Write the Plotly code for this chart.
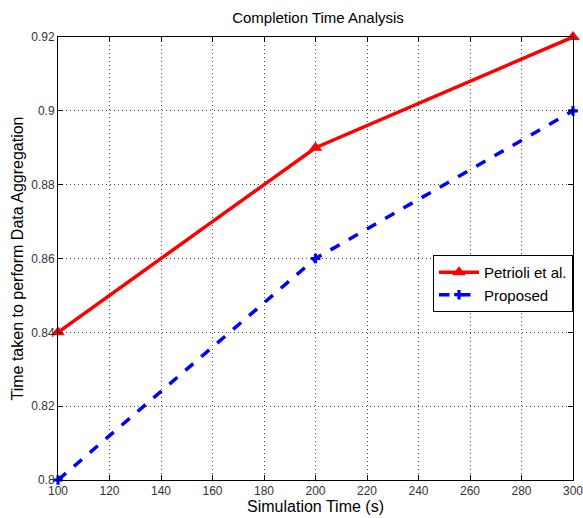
import plotly.graph_objects as go

sim_time = [100, 200, 300]
petrioli = [0.84, 0.89, 0.92]
proposed = [0.80, 0.86, 0.90]
x_ticks = list(range(100, 301, 20))
y_ticks = [0.8, 0.82, 0.84, 0.86, 0.88, 0.9, 0.92]
y_tick_text = ["0.8", "0.82", "0.84", "0.86", "0.88", "0.9", "0.92"]

fig = go.Figure()
fig.add_trace(go.Scatter(
    x=sim_time, y=petrioli, mode="lines+markers", name="Petrioli et al.",
    line=dict(color="#ff0000", width=3.5),
    marker=dict(symbol="triangle-up", size=12, color="#ff0000"),
    cliponaxis=False,
))
fig.add_trace(go.Scatter(
    x=sim_time, y=proposed, mode="lines+markers", name="Proposed",
    line=dict(color="#0000ff", width=3.5, dash="dash"),
    marker=dict(symbol="cross", size=8, color="#0000ff"),
    cliponaxis=False,
))

axis_common = dict(
    showline=True, linecolor="black", linewidth=1, mirror="ticks",
    ticks="inside", ticklen=5, tickcolor="black",
    showgrid=True, gridcolor="#444444", griddash="1px,3px", gridwidth=1,
    zeroline=False, automargin=False, ticklabeloverflow="allow",
    tickfont=dict(family="Liberation Sans Narrow, Arial Narrow, Liberation Sans, Arial", size=12, color="#333333"),
)

W, H = 583, 518
fig.update_layout(
    width=W, height=H,
    paper_bgcolor="white", plot_bgcolor="white",
    margin=dict(l=58, r=10, t=37, b=38),
    title=dict(text="Completion Time Analysis", x=318 / W, xanchor="center",
               y=1 - 18 / H, yanchor="middle", yref="container",
               font=dict(family="Liberation Sans, Arial", size=15, color="black")),
    xaxis=dict(range=[100, 300], tickvals=x_ticks,
               title=dict(text="Simulation Time (s)", standoff=2,
                          font=dict(family="Liberation Sans, Arial", size=16, color="black")),
               **axis_common),
    yaxis=dict(range=[0.8, 0.92], tickvals=y_ticks, ticktext=y_tick_text,
               title=dict(text="Time taken to perform Data Aggregation", standoff=3,
                          font=dict(family="Liberation Sans, Arial", size=16, color="black")),
               **axis_common),
    legend=dict(x=1.0, xanchor="right", y=0.508, yanchor="top",
                bgcolor="white", bordercolor="black", borderwidth=1,
                font=dict(family="Liberation Sans, Arial", size=15, color="black"),
                itemwidth=40, tracegroupgap=0),
    showlegend=True,
)

fig.write_html(
    "out.html",
    config={"displayModeBar": False},
    post_script="document.body.style.margin='0';document.body.style.overflow='hidden';",
)
